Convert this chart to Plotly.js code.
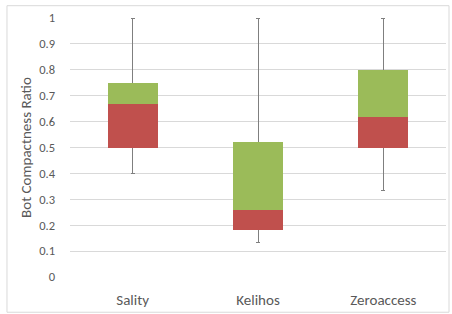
<!DOCTYPE html>
<html>
<head>
<meta charset="utf-8">
<script src="https://cdn.plot.ly/plotly-3.0.1.min.js"></script>
<style>html,body{margin:0;padding:0;background:#fff}#chart{width:452px;height:314px}</style>
</head>
<body>
<div id="chart"></div>
<script>
const categories = ["Sality", "Kelihos", "Zeroaccess"];
const minVals    = [0.40, 0.135, 0.333];
const q1Vals     = [0.50, 0.18, 0.50];
const medianVals = [0.667, 0.26, 0.618];
const q3Vals     = [0.75, 0.52, 0.80];
const maxVals    = [1.0, 1.0, 1.0];

const lowerSeg = medianVals.map((m, i) => m - q1Vals[i]);
const upperSeg = q3Vals.map((q, i) => q - medianVals[i]);
const upReach = maxVals.map((m, i) => m - q1Vals[i]);
const downReach = q1Vals.map((q, i) => q - minVals[i]);

const traces = [
  {type: 'bar', x: categories, y: q1Vals, marker: {color: 'rgba(0,0,0,0)'}, hoverinfo: 'skip', showlegend: false,
   error_y: {type: 'data', symmetric: false, array: upReach, arrayminus: downReach, visible: true,
             color: '#7f7f7f', thickness: 1, width: 2}},
  {type: 'bar', x: categories, y: lowerSeg, marker: {color: '#C0504D'}, showlegend: false},
  {type: 'bar', x: categories, y: upperSeg, marker: {color: '#9BBB59'}, showlegend: false}
];

const font = "Calibri, Carlito, Lato, 'Open Sans', sans-serif";
const layout = {
  width: 452, height: 314,
  margin: {l: 70, r: 6, t: 18, b: 37},
  barmode: 'stack',
  bargap: 0.6,
  paper_bgcolor: '#fff', plot_bgcolor: '#fff',
  font: {family: font, color: '#595959', size: 12},
  showlegend: false,
  xaxis: {showgrid: false, zeroline: false, showline: false, ticks: '', ticklabelstandoff: 12,
          tickfont: {size: 15, color: '#595959'}},
  yaxis: {range: [0, 1], dtick: 0.1, showgrid: true, gridcolor: '#d9d9d9', gridwidth: 1,
          zeroline: false, showline: false, ticks: '', ticklabelstandoff: 14,
          tickfont: {size: 12.5, color: '#595959'},
          title: {text: 'Bot Compactness Ratio', font: {size: 15, color: '#595959'}, standoff: 3}},
  shapes: [{type: 'rect', xref: 'paper', yref: 'paper', x0: -0.1676, x1: 1.008, y0: -0.136, y1: 1.0475,
            line: {color: '#d9d9d9', width: 1}, fillcolor: 'rgba(0,0,0,0)', layer: 'below'}]
};

Plotly.newPlot('chart', traces, layout, {displayModeBar: false, staticPlot: true});
</script>
</body>
</html>
